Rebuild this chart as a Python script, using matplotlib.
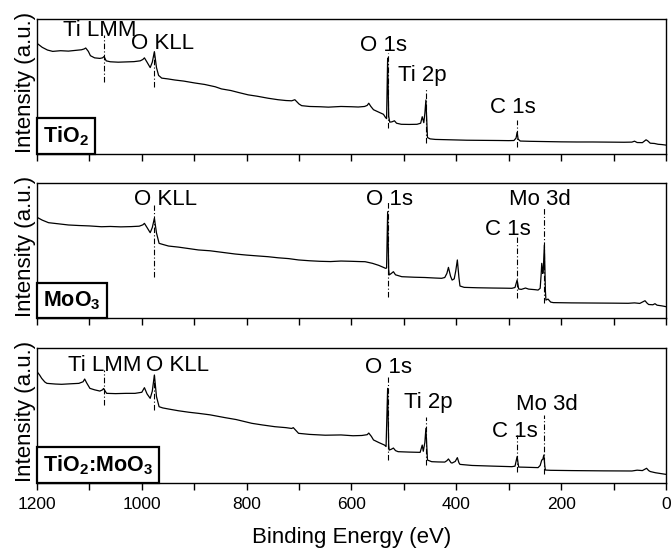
import matplotlib
matplotlib.use('Agg')
import matplotlib.pyplot as plt
from matplotlib.ticker import MultipleLocator
from matplotlib.offsetbox import AnchoredText

plt.rcParams['font.family'] = ['Liberation Sans', 'DejaVu Sans']
plt.rcParams['mathtext.fontset'] = 'custom'
plt.rcParams['mathtext.rm'] = 'Liberation Sans'
plt.rcParams['mathtext.bf'] = 'Liberation Sans:bold'

# survey spectra, binding energy (eV) and intensity (a.u.)
tio2Energy = [1200, 1190, 1180, 1170, 1155, 1140, 1125, 1115, 1110, 1107, 1102, 1098, 1090, 1080,
              1075, 1072, 1068, 1060, 1045, 1030, 1015, 1003, 998, 995, 990, 984, 980, 976, 972,
              968, 962, 950, 937, 920, 899, 880, 860, 848, 830, 815, 797, 780, 759, 740, 725, 714,
              708, 700, 695, 680, 660, 644, 620, 600, 587, 575, 570, 567, 563, 558, 548, 539, 535,
              533, 531, 529, 527, 523, 518, 514, 505, 490, 475, 468, 465, 462, 460, 458, 455, 450,
              440, 420, 400, 380, 350, 320, 300, 290, 286, 284, 282, 278, 260, 230, 200, 170, 140,
              110, 80, 65, 60, 55, 45, 38, 35, 30, 22, 15, 8, 0]
tio2Counts = [0.82, 0.79, 0.77, 0.76, 0.765, 0.762, 0.768, 0.772, 0.778, 0.785, 0.76, 0.728, 0.712,
              0.708, 0.712, 0.722, 0.69, 0.683, 0.68, 0.682, 0.684, 0.69, 0.70, 0.712, 0.68, 0.64,
              0.68, 0.758, 0.64, 0.582, 0.562, 0.556, 0.548, 0.54, 0.526, 0.515, 0.498, 0.482, 0.47,
              0.455, 0.438, 0.428, 0.413, 0.402, 0.396, 0.394, 0.402, 0.37, 0.358, 0.352, 0.35,
              0.347, 0.352, 0.35, 0.348, 0.352, 0.36, 0.376, 0.352, 0.328, 0.31, 0.294, 0.27, 0.262,
              0.71, 0.28, 0.236, 0.238, 0.246, 0.228, 0.22, 0.219, 0.22, 0.228, 0.276, 0.232, 0.3,
              0.40, 0.122, 0.112, 0.108, 0.106, 0.104, 0.102, 0.101, 0.1, 0.099, 0.1, 0.118, 0.16,
              0.11, 0.096, 0.094, 0.092, 0.09, 0.089, 0.089, 0.088, 0.087, 0.088, 0.095, 0.085,
              0.084, 0.105, 0.098, 0.08, 0.078, 0.072, 0.07, 0.066]

moo3Energy = [1200, 1190, 1178, 1160, 1140, 1120, 1100, 1077, 1060, 1040, 1020, 1005, 998, 995, 990,
              984, 980, 976, 972, 967, 960, 949, 930, 910, 892, 870, 850, 822, 800, 780, 759, 740,
              720, 701, 680, 660, 640, 620, 600, 585, 574, 560, 548, 539, 535, 533, 531, 529, 528,
              524, 520, 516, 504, 480, 460, 440, 428, 422, 418, 415, 411, 408, 404, 401, 398, 395,
              393, 385, 360, 330, 310, 294, 288, 284, 281, 276, 268, 262, 250, 244, 240, 238, 237,
              235, 234, 232, 230, 229, 225, 220, 215, 180, 140, 100, 72, 60, 50, 40, 36, 33, 25,
              21, 17, 8, 0]
moo3Counts = [0.746, 0.725, 0.706, 0.698, 0.689, 0.685, 0.682, 0.676, 0.678, 0.675, 0.677, 0.68,
              0.69, 0.701, 0.67, 0.632, 0.67, 0.738, 0.63, 0.553, 0.545, 0.533, 0.525, 0.514, 0.504,
              0.498, 0.488, 0.474, 0.466, 0.46, 0.454, 0.446, 0.44, 0.43, 0.424, 0.42, 0.418, 0.422,
              0.42, 0.418, 0.417, 0.405, 0.39, 0.375, 0.368, 0.37, 0.787, 0.36, 0.319, 0.33, 0.343,
              0.32, 0.306, 0.302, 0.3, 0.296, 0.294, 0.3, 0.33, 0.375, 0.31, 0.281, 0.29, 0.35, 0.43,
              0.3, 0.237, 0.227, 0.224, 0.222, 0.221, 0.22, 0.226, 0.281, 0.215, 0.212, 0.222,
              0.214, 0.21, 0.207, 0.22, 0.33, 0.405, 0.33, 0.36, 0.541, 0.2, 0.133, 0.14, 0.118,
              0.114, 0.112, 0.111, 0.11, 0.109, 0.112, 0.108, 0.128, 0.11, 0.1, 0.098, 0.106, 0.095,
              0.09, 0.084]

mixEnergy = [1200, 1195, 1191, 1185, 1181, 1165, 1153, 1135, 1120, 1112, 1109, 1105, 1099, 1090,
             1080, 1075, 1073, 1069, 1067, 1050, 1030, 1013, 1000, 995, 990, 984, 980, 976, 972,
             967, 960, 949, 930, 910, 892, 870, 841, 820, 790, 770, 746, 725, 714, 711, 705, 701,
             680, 650, 620, 597, 580, 570, 567, 562, 558, 548, 537, 534, 531, 529, 528, 524, 520,
             516, 511, 490, 469, 465, 463, 460, 458, 455, 447, 435, 422, 418, 415, 410, 408, 402,
             398, 395, 393, 370, 330, 294, 288, 284, 281, 270, 244, 240, 237, 235, 233, 231, 230,
             220, 180, 120, 65, 55, 45, 37, 33, 30, 20, 10, 0]
mixCounts = [0.825, 0.8, 0.775, 0.748, 0.738, 0.733, 0.731, 0.735, 0.738, 0.75, 0.77, 0.74, 0.701,
             0.69, 0.681, 0.69, 0.70, 0.675, 0.664, 0.662, 0.664, 0.664, 0.672, 0.706, 0.66, 0.627,
             0.68, 0.80, 0.64, 0.565, 0.556, 0.548, 0.535, 0.524, 0.516, 0.505, 0.484, 0.47, 0.442,
             0.43, 0.417, 0.41, 0.404, 0.41, 0.385, 0.368, 0.36, 0.354, 0.356, 0.35, 0.352, 0.358,
             0.37, 0.345, 0.319, 0.3, 0.281, 0.27, 0.701, 0.28, 0.244, 0.25, 0.259, 0.24, 0.232,
             0.229, 0.227, 0.281, 0.235, 0.3, 0.405, 0.17, 0.158, 0.156, 0.155, 0.165, 0.178, 0.15,
             0.148, 0.16, 0.188, 0.15, 0.138, 0.13, 0.125, 0.121, 0.125, 0.195, 0.118, 0.117,
             0.114, 0.13, 0.17, 0.175, 0.207, 0.12, 0.096, 0.094, 0.092, 0.09, 0.089, 0.095, 0.092,
             0.109, 0.092, 0.085, 0.076, 0.07, 0.064]

sampleNames = [r'TiO$_\mathbf{2}$', r'MoO$_\mathbf{3}$', r'TiO$_\mathbf{2}$:MoO$_\mathbf{3}$']
energies = [tio2Energy, moo3Energy, mixEnergy]
counts = [tio2Counts, moo3Counts, mixCounts]

# peak marks: label, peak energy, line top, line bottom, text x, text y
peakMarks = [
    [('Ti LMM', 1072, 0.88, 0.536, 1081, 0.911), ('O KLL', 976, 0.758, 0.499, 960, 0.822),
     ('O 1s', 531, 0.746, 0.19, 539, 0.80), ('Ti 2p', 458, 0.486, 0.079, 465, 0.585),
     ('C 1s', 284, 0.252, 0.054, 292, 0.344)],
    [('O KLL', 976, 0.837, 0.306, 954, 0.874), ('O 1s', 531, 0.862, 0.158, 528, 0.881),
     ('C 1s', 284, 0.603, 0.146, 301, 0.652), ('Mo 3d', 232, 0.824, 0.11, 240, 0.881)],
    [('Ti LMM', 1072, 0.837, 0.578, 1071, 0.867), ('O KLL', 976, 0.80, 0.541, 932, 0.867),
     ('O 1s', 531, 0.787, 0.17, 530, 0.856), ('Ti 2p', 458, 0.491, 0.133, 454, 0.596),
     ('C 1s', 284, 0.356, 0.083, 288, 0.38), ('Mo 3d', 232, 0.504, 0.07, 228, 0.585)],
]

fig = plt.figure(figsize=(6.71, 5.5), dpi=100)
panelBottoms = [0.72, 0.4218, 0.1218]

for i in range(3):
    ax = fig.add_axes([0.0551, panelBottoms[i], 0.9374, 0.2455])
    ax.plot(energies[i], counts[i], color='black', lw=0.9)

    # dash-dot marker lines and peak names
    for name, pe, yTop, yBot, tx, ty in peakMarks[i]:
        ax.plot([pe, pe], [yBot, yTop], color='black', lw=0.8,
                linestyle=(0, (5, 2, 1, 2)))
        ax.text(tx, ty, name, ha='center', va='center', fontsize=16)

    ax.set_xlim(1200, 0)
    ax.set_ylim(0, 1)
    ax.set_yticks([])
    ax.xaxis.set_major_locator(MultipleLocator(200))
    ax.xaxis.set_minor_locator(MultipleLocator(100))
    ax.tick_params(axis='x', which='both', direction='out', length=5, width=1,
                   labelsize=12.5, pad=5)
    for sp in ax.spines.values():
        sp.set_linewidth(1.0)
    if i < 2:
        ax.tick_params(axis='x', labelbottom=False)
    else:
        ax.set_xlabel('Binding Energy (eV)', fontsize=16, labelpad=11)

    ax.text(-0.019, 0.53, 'Intensity (a.u.)', rotation=90, transform=ax.transAxes,
            ha='center', va='center', fontsize=16)

    # sample name box in the lower left corner
    box = AnchoredText(sampleNames[i], loc='lower left', borderpad=0, pad=0.28,
                       prop=dict(size=15.5, weight='bold'))
    box.patch.set_boxstyle('square,pad=0')
    box.patch.set_linewidth(1.6)
    ax.add_artist(box)

fig.savefig('out.png', dpi=100)
